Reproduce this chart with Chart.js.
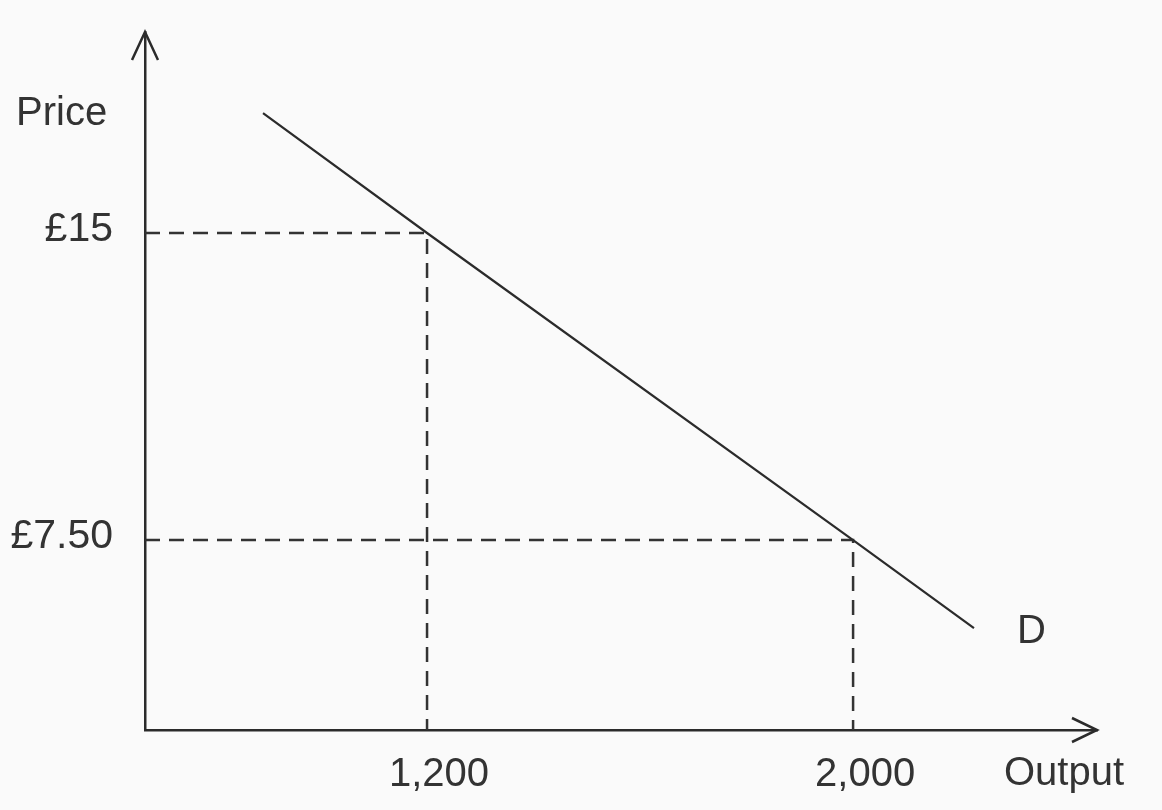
<!DOCTYPE html>
<html>
<head>
<meta charset="utf-8">
<script src="https://cdn.jsdelivr.net/npm/chart.js@4/dist/chart.umd.min.js"></script>
<style>
  html, body { margin: 0; padding: 0; background: #fafafa; }
  #wrap { width: 1162px; height: 810px; position: relative; }
</style>
</head>
<body>
<div id="wrap"><canvas id="demandChart"></canvas></div>
<script>
// demand curve
const demandQty = [892, 1200, 2000, 2227];
const demandPrice = [17.93, 15, 7.5, 5.35];

// marked points and their tick labels
const outputTicks = [1200, 2000];
const outputLabels = ['1,200', '2,000'];
const priceTicks = [7.5, 15];
const priceLabels = ['£7.50', '£15'];

// axis extents (the diagram does not start at zero)
const xMin = 670.4, xMax = 2458;
const yMin = 2.86, yMax = 19.91;

const ink = '#2b2b2b';
const font = 'Liberation Sans, Arial, sans-serif';

const demandData = demandQty.map((q, i) => ({ x: q, y: demandPrice[i] }));

// dashed guides from each marked point to both axes
const guideSets = outputTicks.map((q, i) => ({
    data: [{ x: xMin, y: priceTicks[priceTicks.length - 1 - i] },
           { x: q, y: priceTicks[priceTicks.length - 1 - i] },
           { x: q, y: yMin }],
    showLine: true,
    borderColor: '#333',
    borderWidth: 2.5,
    borderDash: [15, 9],
    pointRadius: 0
}));

// arrow heads and free text labels
const diagramExtras = {
    id: 'diagramExtras',
    afterDraw(chart) {
        const { ctx, chartArea: a, scales } = chart;
        ctx.save();
        ctx.strokeStyle = ink;
        ctx.lineWidth = 2.5;
        ctx.beginPath();
        ctx.moveTo(a.left - 13, a.top + 28);
        ctx.lineTo(a.left, a.top);
        ctx.lineTo(a.left + 13, a.top + 28);
        ctx.moveTo(a.right - 25, a.bottom - 12);
        ctx.lineTo(a.right, a.bottom);
        ctx.lineTo(a.right - 25, a.bottom + 12);
        ctx.stroke();

        ctx.fillStyle = '#333';
        ctx.font = '40px ' + font;
        ctx.textBaseline = 'alphabetic';
        ctx.textAlign = 'left';
        ctx.fillText('Price', 16, 125);
        ctx.fillText('Output', 1004, 785);
        const last = demandData[demandData.length - 1];
        ctx.fillText('D', scales.x.getPixelForValue(last.x) + 43, scales.y.getPixelForValue(last.y) + 15);
        ctx.restore();
    }
};

new Chart(document.getElementById('demandChart'), {
    type: 'scatter',
    data: {
        datasets: [
            {
                data: demandData,
                showLine: true,
                borderColor: ink,
                borderWidth: 2.2,
                pointRadius: 0
            },
            ...guideSets
        ]
    },
    options: {
        responsive: true,
        maintainAspectRatio: false,
        animation: false,
        layout: { padding: { top: 32, right: 65, left: 0, bottom: 0 } },
        plugins: { legend: { display: false }, tooltip: { enabled: false } },
        scales: {
            x: {
                type: 'linear',
                min: xMin,
                max: xMax,
                grid: { display: false },
                border: { display: true, color: ink, width: 2.5 },
                afterBuildTicks: (scale) => { scale.ticks = outputTicks.map(v => ({ value: v })); },
                afterFit: (scale) => { scale.height = 80; scale.paddingLeft = 0; scale.paddingRight = 0; },
                ticks: {
                    padding: 13,
                    labelOffset: 12,
                    color: '#333',
                    font: { family: font, size: 40 },
                    maxRotation: 0,
                    callback: (v) => outputLabels[outputTicks.indexOf(v)]
                }
            },
            y: {
                type: 'linear',
                min: yMin,
                max: yMax,
                grid: { display: false },
                border: { display: true, color: ink, width: 2.5 },
                afterBuildTicks: (scale) => { scale.ticks = priceTicks.map(v => ({ value: v })); },
                afterFit: (scale) => { scale.width = 145; scale.paddingTop = 0; scale.paddingBottom = 0; },
                ticks: {
                    padding: 24,
                    labelOffset: -3,
                    color: '#333',
                    font: { family: font, size: 41 },
                    callback: (v) => priceLabels[priceTicks.indexOf(v)]
                }
            }
        }
    },
    plugins: [diagramExtras]
});
</script>
</body>
</html>
